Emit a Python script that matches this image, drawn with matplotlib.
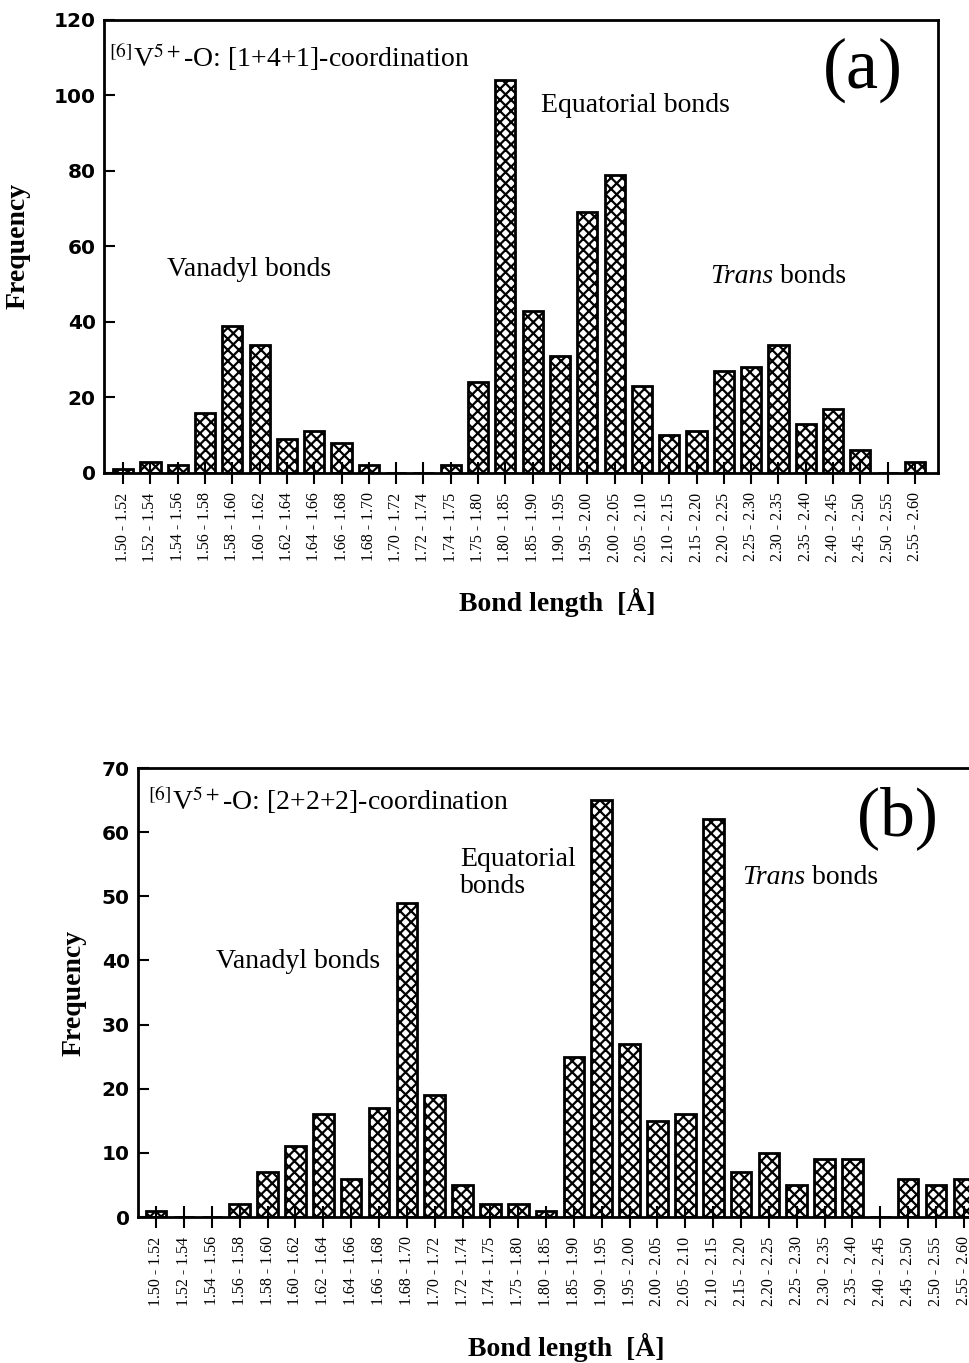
import numpy as np
import matplotlib
matplotlib.use("Agg")
import matplotlib.pyplot as plt

# bond length bins (same for both panels)
bins = ["1.50 - 1.52", "1.52 - 1.54", "1.54 - 1.56", "1.56 - 1.58", "1.58 - 1.60",
        "1.60 - 1.62", "1.62 - 1.64", "1.64 - 1.66", "1.66 - 1.68", "1.68 - 1.70",
        "1.70 - 1.72", "1.72 - 1.74", "1.74 - 1.75", "1.75 - 1.80", "1.80 - 1.85",
        "1.85 - 1.90", "1.90 - 1.95", "1.95 - 2.00", "2.00 - 2.05", "2.05 - 2.10",
        "2.10 - 2.15", "2.15 - 2.20", "2.20 - 2.25", "2.25 - 2.30", "2.30 - 2.35",
        "2.35 - 2.40", "2.40 - 2.45", "2.45 - 2.50", "2.50 - 2.55", "2.55 - 2.60"]

# (a) [1+4+1]-coordination
freq_a = [1, 3, 2, 16, 39, 34, 9, 11, 8, 2, 0, 0, 2, 24, 104, 43, 31, 69, 79, 23,
          10, 11, 27, 28, 34, 13, 17, 6, 0, 3]
# (b) [2+2+2]-coordination
freq_b = [1, 0, 0, 2, 7, 11, 16, 6, 17, 49, 19, 5, 2, 2, 1, 25, 65, 27, 15, 16,
          62, 7, 10, 5, 9, 9, 0, 6, 5, 6]

plt.rcParams['hatch.linewidth'] = 1.6
serif = 'Liberation Serif'
FS = 20

fig = plt.figure(figsize=(9.7, 13.63), dpi=100)
ax_a = fig.add_axes([0.1072, 0.6530, 0.8600, 0.3324])
ax_b = fig.add_axes([0.1423, 0.1071, 0.8600, 0.3294])

x = np.arange(len(bins))


def style_axes(ax, freq, ymax, ystep):
    ax.bar(x, freq, width=0.74, color='white', edgecolor='black',
           linewidth=2, hatch='xxx')
    ax.set_ylim(0, ymax)
    ax.set_yticks(np.arange(0, ymax + 1, ystep))
    ax.set_xticks(x)
    ax.set_xticklabels(bins, rotation=90, fontfamily=serif, fontsize=11.5)
    for lab in ax.get_yticklabels():
        lab.set_fontfamily('DejaVu Sans')
        lab.set_fontweight('bold')
        lab.set_fontsize(14.5)
    ax.tick_params(axis='x', direction='inout', length=16, width=1.5, pad=6)
    ax.tick_params(axis='y', direction='in', length=8, width=1.5, pad=6)
    for sp in ax.spines.values():
        sp.set_linewidth(2)
    ax.set_ylabel('Frequency', fontfamily=serif, fontweight='bold', fontsize=FS)
    ax.set_xlabel('Bond length  [Å]', fontfamily=serif, fontweight='bold',
                  fontsize=FS)


style_axes(ax_a, freq_a, 120, 20)
ax_a.set_xlim(-0.70, 29.85)
ax_a.yaxis.set_label_coords(-0.088, 0.5)
ax_a.xaxis.set_label_coords(0.543, -0.254)
ax_a.text(-0.5, 110, r'$^{[6]}$V$^{5+}$-O: [1+4+1]-coordination', fontfamily=serif,
          fontsize=FS, va='center', ha='left', math_fontfamily='stix')
ax_a.text(27.1, 106.6, '(a)', fontfamily=serif, fontsize=52, ha='center', va='center')
ax_a.text(18.75, 97.4, 'Equatorial bonds', fontfamily=serif, fontsize=FS,
          ha='center', va='center')
ax_a.text(4.6, 54, 'Vanadyl bonds', fontfamily=serif, fontsize=FS,
          ha='center', va='center')
ax_a.text(23.8, 52, 'Trans', fontfamily=serif, fontsize=FS, style='italic',
          ha='right', va='center')
ax_a.text(23.8, 52, ' bonds', fontfamily=serif, fontsize=FS,
          ha='left', va='center')

style_axes(ax_b, freq_b, 70, 10)
ax_b.set_xlim(-0.65, 29.3)
ax_b.spines['right'].set_visible(False)
ax_b.yaxis.set_label_coords(-0.062, 0.5)
ax_b.xaxis.set_label_coords(0.513, -0.258)
ax_b.text(-0.3, 65, r'$^{[6]}$V$^{5+}$-O: [2+2+2]-coordination', fontfamily=serif,
          fontsize=FS, va='center', ha='left', math_fontfamily='stix')
ax_b.text(26.6, 62.2, '(b)', fontfamily=serif, fontsize=50, ha='center', va='center')
ax_b.text(10.9, 53.6, 'Equatorial\nbonds', fontfamily=serif, fontsize=FS,
          ha='left', va='center', linespacing=1.1)
ax_b.text(23.3, 53, 'Trans', fontfamily=serif, fontsize=FS, style='italic',
          ha='right', va='center')
ax_b.text(23.3, 53, ' bonds', fontfamily=serif, fontsize=FS,
          ha='left', va='center')
ax_b.text(5.1, 39.8, 'Vanadyl bonds', fontfamily=serif, fontsize=FS,
          ha='center', va='center')

fig.savefig('out.png', dpi=100)
